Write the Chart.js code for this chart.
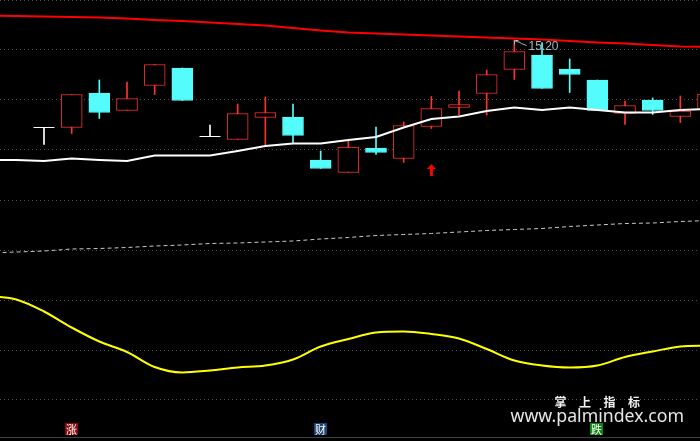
<!DOCTYPE html>
<html>
<head>
<meta charset="utf-8">
<title>K线</title>
<script src="https://cdn.jsdelivr.net/npm/chart.js@4.4.0/dist/chart.umd.min.js"></script>
<style>
  html, body { margin: 0; padding: 0; background: #000; }
  canvas { display: block; }
</style>
</head>
<body>
<canvas id="kline" width="700" height="441"></canvas>
<script>
// ====================================================
// 1) 数据 (从图上读出来的)
// ====================================================
const idx   = [0, 1, 2, 3, 4, 5, 6, 7, 8, 9, 10, 11, 12, 13, 14, 15, 16, 17, 18, 19, 20, 21, 22, 23, 24];
const open  = [13.45, 13.45, 14.14, 13.79, 14.29, 14.64, 13.27, 13.21, 13.65, 13.66, 12.80, 12.55, 13.04, 12.83, 13.47, 13.85, 14.13, 14.61, 14.90, 14.62, 14.40, 13.73, 14.00, 13.67, 13.80];
const high  = [13.45, 14.11, 14.40, 14.36, 14.71, 14.64, 13.50, 13.92, 14.06, 13.92, 12.98, 13.20, 13.46, 13.56, 14.07, 14.18, 14.60, 15.20, 15.15, 14.82, 14.40, 13.98, 14.04, 14.08, 14.20];
const low   = [13.11, 13.33, 13.63, 13.79, 14.11, 13.99, 13.27, 13.21, 13.10, 13.13, 12.63, 12.55, 12.91, 12.75, 13.43, 13.70, 13.70, 14.41, 14.23, 14.15, 13.79, 13.51, 13.71, 13.55, 13.70];
const close = [13.45, 14.11, 13.75, 14.03, 14.71, 13.99, 13.27, 13.73, 13.75, 13.29, 12.63, 13.06, 12.95, 13.49, 13.83, 13.91, 14.51, 14.97, 14.23, 14.51, 13.79, 13.89, 13.79, 13.78, 14.12];

// 指标线 (多两根在左边出界)
const lineIdx   = [-2, -1, 0, 1, 2, 3, 4, 5, 6, 7, 8, 9, 10, 11, 12, 13, 14, 15, 16, 17, 18, 19, 20, 21, 22, 23, 24];
const upperLine = [15.69, 15.68, 15.67, 15.66, 15.65, 15.63, 15.60, 15.58, 15.55, 15.52, 15.49, 15.44, 15.39, 15.35, 15.33, 15.31, 15.29, 15.27, 15.25, 15.23, 15.21, 15.18, 15.15, 15.13, 15.10, 15.07, 15.06];
const maLine    = [12.80, 12.80, 12.78, 12.83, 12.80, 12.78, 12.89, 12.89, 12.89, 12.98, 13.08, 13.13, 13.13, 13.20, 13.26, 13.45, 13.62, 13.67, 13.78, 13.85, 13.80, 13.85, 13.80, 13.75, 13.75, 13.80, 13.82];
const midLine   = [10.94, 10.96, 10.98, 11.02, 11.03, 11.05, 11.08, 11.10, 11.13, 11.14, 11.16, 11.18, 11.22, 11.25, 11.29, 11.31, 11.33, 11.36, 11.39, 11.41, 11.43, 11.47, 11.50, 11.53, 11.54, 11.57, 11.59];
const oscLine   = [10.08, 10.01, 9.77, 9.45, 9.17, 8.96, 8.66, 8.55, 8.59, 8.65, 8.69, 8.81, 9.07, 9.22, 9.35, 9.37, 9.32, 9.23, 9.02, 8.79, 8.69, 8.65, 8.69, 8.86, 8.97, 9.07, 9.09];

const gridTicks = [16, 15, 14, 13, 12, 11, 10, 9, 8];
const baseLine  = 7.26;

// 买点箭头
const signalIdx = [14];
const signalVal = [12.60];

// 底部标记
const markIdx   = [1, 10, 20];
const markText  = ["涨", "财", "跌"];
const markColor = ["#8c0a0a", "#1c4676", "#0a860a"];

const UP = "#ff3232", DOWN = "#54fcfc", FLAT = "#ffffff";
const candleColor = i => close[i] > open[i] ? UP : (close[i] < open[i] ? DOWN : FLAT);


// ====================================================
// 2) 箭头图形
// ====================================================
const arrow = document.createElement("canvas");
arrow.width = 9;
arrow.height = 12;
const a = arrow.getContext("2d");
a.fillStyle = "#ff0000";
a.beginPath();
a.moveTo(4.5, 0);
a.lineTo(9, 5);
a.lineTo(0, 5);
a.closePath();
a.fill();
a.fillRect(3, 5, 3, 7);


// ====================================================
// 3) 文字 overlay
// ====================================================
const overlay = {
  id: "overlay",
  afterDatasetsDraw(chart) {
    const { ctx, chartArea } = chart;
    const x = chart.scales.x, y = chart.scales.y;
    ctx.save();

    // 最高价
    const hi = high.indexOf(Math.max(...high));
    const px = Math.round(x.getPixelForValue(hi)) + 0.5;
    const py = Math.round(y.getPixelForValue(high[hi])) + 0.5;
    ctx.strokeStyle = "#a8b4c4";
    ctx.lineWidth = 1;
    ctx.beginPath();
    ctx.moveTo(px, py + 4);
    ctx.lineTo(px, py);
    ctx.lineTo(px + 4, py);
    ctx.moveTo(px + 1, py + 1);
    ctx.quadraticCurveTo(px + 5, py + 1, px + 7, py + 3);
    ctx.lineTo(px + 12, py + 5);
    ctx.stroke();
    ctx.fillStyle = "#a8b4c4";
    ctx.font = '12px "Liberation Sans"';
    ctx.textBaseline = "middle";
    ctx.textAlign = "left";
    ctx.fillText(high[hi].toFixed(2), px + 14, py + 6);

    // 底部 涨 财 跌
    ctx.font = '11px "Noto Sans CJK SC"';
    ctx.textAlign = "center";
    markIdx.forEach((i, k) => {
      const cx = Math.round(x.getPixelForValue(i));
      const top = chartArea.bottom - 18;
      ctx.fillStyle = markColor[k];
      ctx.fillRect(cx - 7, top, 13, 12);
      ctx.fillStyle = "#ffffff";
      ctx.fillText(markText[k], cx - 0.5, top + 6.5);
    });

    // 水印
    ctx.fillStyle = "#f0f0f0";
    ctx.font = 'bold 12px "Noto Sans CJK SC"';
    ["掌", "上", "指", "标"].forEach((ch, k) => {
      ctx.fillText(ch, chartArea.right - 139.5 + k * 24.5, chartArea.bottom - 38.5);
    });
    const url = "www.palmindex.com";
    ctx.font = '16px "Noto Sans"';
    const size = 16 * 174 / ctx.measureText(url).width;
    ctx.font = size.toFixed(1) + 'px "Noto Sans"';
    ctx.textAlign = "right";
    ctx.textBaseline = "alphabetic";
    ctx.fillStyle = "#e6e6e6";
    ctx.fillText(url, chartArea.right - 16, chartArea.bottom - 19);

    ctx.restore();
  }
};


// ====================================================
// 4) CHART
// ====================================================
const bodyIdx = idx.filter(i => open[i] !== close[i]);
const dojiIdx = idx.filter(i => open[i] === close[i]);
const pts = arr => lineIdx.map((v, k) => ({ x: v, y: arr[k] }));

new Chart(document.getElementById("kline"), {
  type: "bar",
  data: {
    datasets: [
      {
        type: "line", label: "上轨", order: 1,
        data: pts(upperLine),
        borderColor: "#ff0000", borderWidth: 2, pointRadius: 0, tension: 0
      },
      {
        type: "line", label: "均线", order: 2,
        data: pts(maLine),
        borderColor: "#ffffff", borderWidth: 2, pointRadius: 0, tension: 0
      },
      {
        type: "line", label: "中线", order: 3,
        data: pts(midLine),
        borderColor: "#c8c8c8", borderWidth: 1, borderDash: [4, 3], pointRadius: 0, tension: 0
      },
      {
        type: "line", label: "指标", order: 4,
        data: pts(oscLine),
        borderColor: "#ffff00", borderWidth: 2, pointRadius: 0, cubicInterpolationMode: "monotone"
      },
      {
        type: "line", label: "信号", order: 5, showLine: false,
        data: signalIdx.map((v, k) => ({ x: v, y: signalVal[k] })),
        pointStyle: arrow, pointRadius: 6
      },
      {
        type: "line", label: "十字", order: 6, showLine: false,
        data: dojiIdx.map(i => ({ x: i, y: open[i] })),
        pointStyle: "line", pointRadius: 10.5, borderColor: FLAT, borderWidth: 1
      },
      {
        label: "实体", order: 7, grouped: false,
        data: bodyIdx.map(i => ({ x: i, y: [open[i], close[i]] })),
        backgroundColor: bodyIdx.map(i => close[i] > open[i] ? "#000000" : DOWN),
        borderColor: bodyIdx.map(i => candleColor(i)),
        borderWidth: 1, borderSkipped: false, barThickness: 21
      },
      {
        label: "影线", order: 8, grouped: false,
        data: idx.map(i => ({ x: i, y: [low[i], high[i]] })),
        backgroundColor: idx.map(i => candleColor(i)),
        borderWidth: 0, barThickness: 1
      }
    ]
  },
  options: {
    responsive: false,
    animation: false,
    events: [],
    layout: { padding: 0, autoPadding: false },
    plugins: { legend: { display: false }, tooltip: { enabled: false } },
    scales: {
      x: {
        type: "linear", min: -1.59, max: 23.71, offset: false,
        display: false
      },
      y: {
        type: "linear", min: 7.18, max: 16, beginAtZero: false,
        afterFit: s => { s.width = 0; },
        afterBuildTicks: s => { s.ticks = gridTicks.concat([baseLine]).map(v => ({ value: v })); },
        ticks: { display: false },
        grid: {
          drawTicks: false,
          lineWidth: 1,
          color: c => (c.tick && c.tick.value === baseLine) ? "#404040" : "#4e4e4e"
        },
        border: {
          display: false,
          dash: c => (c.tick && c.tick.value === baseLine) ? [] : [1, 3]
        }
      }
    }
  },
  plugins: [overlay]
});
</script>
</body>
</html>
